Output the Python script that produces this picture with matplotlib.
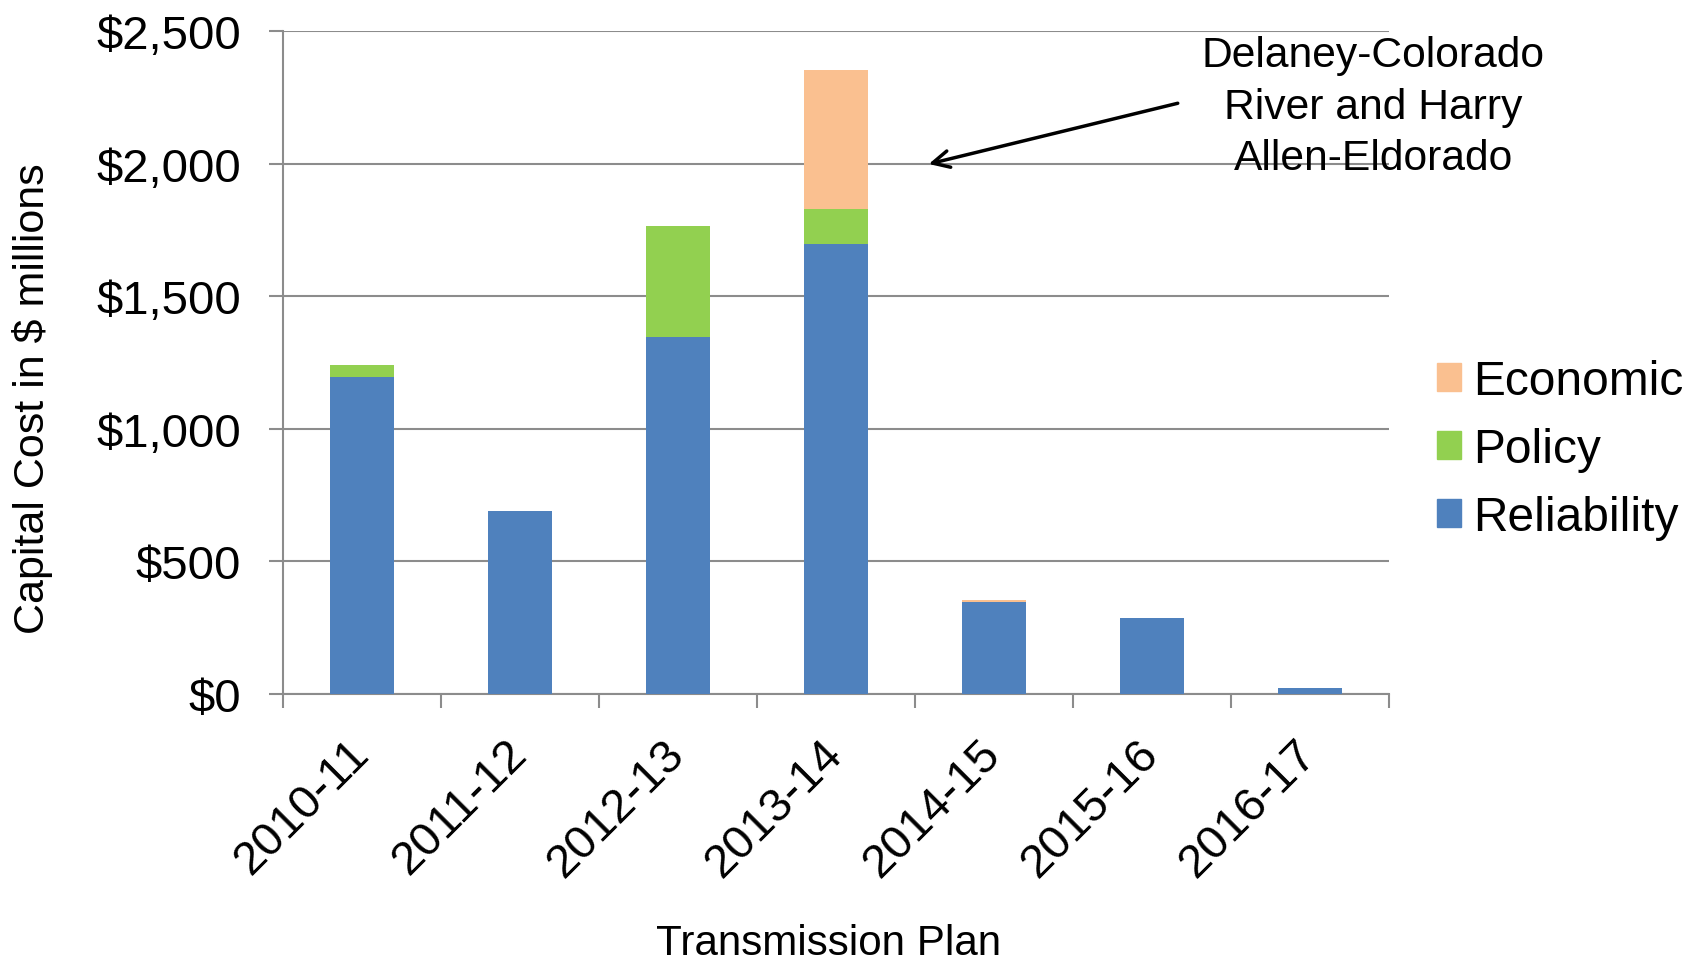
import matplotlib
matplotlib.use("Agg")
import matplotlib.pyplot as plt
from matplotlib.patches import Patch
import numpy as np

#region: data
plans = ['2010-11', '2011-12', '2012-13', '2013-14', '2014-15', '2015-16', '2016-17']
reliability = [1197, 690, 1345, 1698, 348, 285, 21]
policy = [42, 0, 421, 132, 0, 0, 0]
economic = [0, 0, 0, 522, 8, 0, 0]
yticks = [0, 500, 1000, 1500, 2000, 2500]
ytick_labels = ['$0', '$500', '$1,000', '$1,500', '$2,000', '$2,500']
note = 'Delaney-Colorado\nRiver and Harry\nAllen-Eldorado'
#endregion

BLUE = '#4F81BD'
GREEN = '#92D050'
ORANGE = '#FAC090'
GRID = '#8c8c8c'

plt.rcParams['font.family'] = ['Liberation Sans', 'DejaVu Sans']

fig = plt.figure(figsize=(17.02, 9.62), dpi=100)
ax = fig.add_axes([283 / 1702, 1 - 695 / 962, (1389 - 283) / 1702, (695 - 32) / 962])

x = np.arange(len(plans))
rel = np.array(reliability)
pol = np.array(policy)
eco = np.array(economic)
w = 0.4
ax.bar(x, rel, w, color=BLUE, linewidth=0, zorder=3)
ax.bar(x, pol, w, bottom=rel, color=GREEN, linewidth=0, zorder=3)
ax.bar(x, eco, w, bottom=rel + pol, color=ORANGE, linewidth=0, zorder=3)

ax.set_xlim(-0.5, len(plans) - 0.5)
ax.set_ylim(0, 2500)
ax.set_yticks(yticks)
ax.set_yticklabels(ytick_labels, fontsize=34)
ax.yaxis.grid(True, color=GRID, linewidth=1.5, zorder=0)
ax.set_axisbelow(True)

# category ticks sit on the boundaries, labels at centres
ax.set_xticks(np.arange(len(plans) + 1) - 0.5)
ax.set_xticklabels([])
ax.set_xticks(x, minor=True)
ax.set_xticklabels(plans, minor=True, fontsize=34, rotation=45,
                   ha='right', va='center', rotation_mode='anchor')
ax.tick_params(axis='x', which='major', length=10, width=1.5, color=GRID)
ax.tick_params(axis='x', which='minor', length=0, pad=38)
ax.tick_params(axis='y', length=10, width=1.5, color=GRID, pad=20)

for s in ['top', 'right']:
    ax.spines[s].set_visible(False)
for s in ['left', 'bottom']:
    ax.spines[s].set_color(GRID)
    ax.spines[s].set_linewidth(1.5)

# arrow + note
ax.annotate('', xy=(3.57, 1996), xytext=(5.18, 2230),
            arrowprops=dict(arrowstyle='->', color='black', lw=2.5, mutation_scale=30),
            annotation_clip=False, zorder=5)
ax.text(6.40, 2215, note, ha='center', va='center', multialignment='center',
        fontsize=30.7, linespacing=1.36, clip_on=False, zorder=5)

# legend
handles = [Patch(color=ORANGE, label='Economic'),
           Patch(color=GREEN, label='Policy'),
           Patch(color=BLUE, label='Reliability')]
fig.legend(handles=handles, loc='upper left', bbox_to_anchor=(1437 / 1702, 1 - 360 / 962),
           frameon=False, fontsize=34.5, handlelength=0.51, handleheight=0.51,
           handletextpad=0.25, labelspacing=0.48, borderpad=0, borderaxespad=0)

fig.text(33 / 1702, 1 - 399 / 962, 'Capital Cost in $ millions', rotation=90,
         ha='center', va='center', fontsize=31)
fig.text(829 / 1702, 1 - 955 / 962, 'Transmission Plan', ha='center', va='baseline', fontsize=30.3)

fig.savefig('out.png', dpi=100)
